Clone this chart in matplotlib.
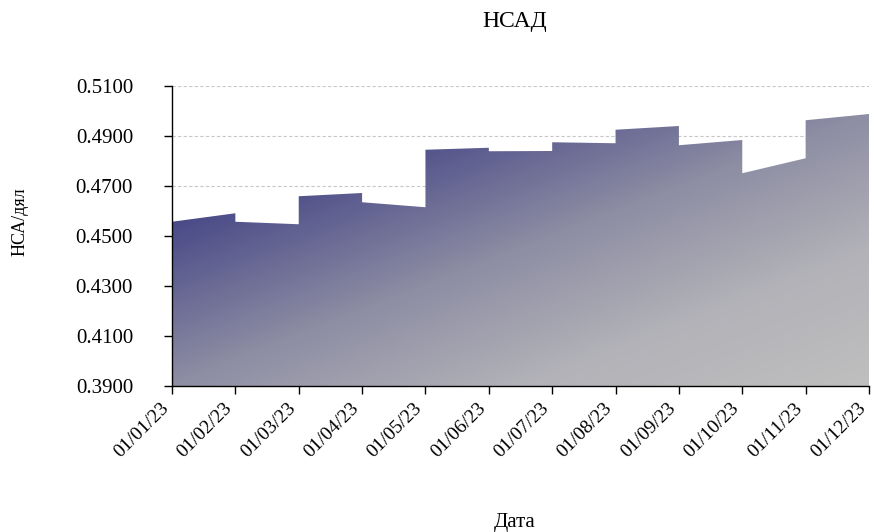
import numpy as np
import matplotlib
matplotlib.use("Agg")
import matplotlib.pyplot as plt
from matplotlib.colors import LinearSegmentedColormap

# ---- data ----
date_labels = ["01/01/23", "01/02/23", "01/03/23", "01/04/23", "01/05/23", "01/06/23",
               "01/07/23", "01/08/23", "01/09/23", "01/10/23", "01/11/23", "01/12/23"]
# value at the start and at the end of each monthly segment
seg_start = [0.4557, 0.4557, 0.4659, 0.4635, 0.4845, 0.4839, 0.4875, 0.4925, 0.4863, 0.4751, 0.4963]
seg_end   = [0.4591, 0.4547, 0.4672, 0.4615, 0.4853, 0.4840, 0.4871, 0.4940, 0.4884, 0.4811, 0.4988]
y_ticks = [0.39, 0.41, 0.43, 0.45, 0.47, 0.49, 0.51]

plt.rcParams['font.family'] = ['Liberation Serif', 'DejaVu Serif']

W, H = 874, 532
fig = plt.figure(figsize=(W / 100, H / 100), dpi=100)
ax = fig.add_axes([172 / W, 1 - 386 / H, (869 - 172) / W, (386 - 86) / H])

xs, ys = [], []
for i, (s, e) in enumerate(zip(seg_start, seg_end)):
    xs += [i, i + 1]
    ys += [s, e]
xs = np.array(xs, dtype=float)
ys = np.array(ys)

ymin, ymax = y_ticks[0], y_ticks[-1]
xmin, xmax = 0, len(date_labels) - 1

ax.set_xlim(xmin, xmax)
ax.set_ylim(ymin, ymax)

# gradient fill clipped to the area polygon
poly = ax.fill_between(xs, ys, ymin, color='none', lw=0, zorder=2)
top = max(ys)
nx, ny = 500, 300
gx = np.linspace(0, 1, nx)[None, :]
gy = np.linspace(0, 1, ny)[:, None]  # 0 = top
t = (gx + gy) / 2.0
cmap = LinearSegmentedColormap.from_list(
    "g", [(0.0, "#3c3c7e"), (0.2, "#4a4a88"), (0.5, "#8e8ea4"),
          (0.75, "#b2b2b8"), (1.0, "#bfbfbf")])
img = ax.imshow(t, cmap=cmap, extent=[xmin, xmax, ymin, top], origin='upper',
                aspect='auto', zorder=2, vmin=0, vmax=1, interpolation='bilinear')
img.set_clip_path(poly.get_paths()[0], transform=ax.transData)

ax.set_xticks(range(len(date_labels)))
ax.set_xticklabels(date_labels, rotation=45, ha='right', va='top', fontsize=14)
ax.set_yticks(y_ticks)
ax.set_yticklabels([f"{v:.4f}" for v in y_ticks], fontsize=15)
ax.tick_params(axis='both', direction='out', length=6, width=1, colors='black')
ax.tick_params(axis='y', pad=22)
ax.tick_params(axis='x', pad=4)

ax.yaxis.grid(True, linestyle=(0, (3, 2)), color='#c8c8c8', lw=0.8, zorder=1)
ax.set_axisbelow(True)
for sp in ['top', 'right']:
    ax.spines[sp].set_visible(False)
for sp in ['left', 'bottom']:
    ax.spines[sp].set_color('black')
    ax.spines[sp].set_linewidth(1)
    ax.spines[sp].set_zorder(3)

fig.text(515 / W, 1 - 22 / H, "НСАД", ha='center', va='center', fontsize=17)
fig.text(515 / W, 1 - 522 / H, "Дата", ha='center', va='center', fontsize=15)
fig.text(20 / W, 1 - 222 / H, "НСА/дял", ha='center', va='center', rotation=90, fontsize=13)

fig.savefig("out.png", dpi=100)
